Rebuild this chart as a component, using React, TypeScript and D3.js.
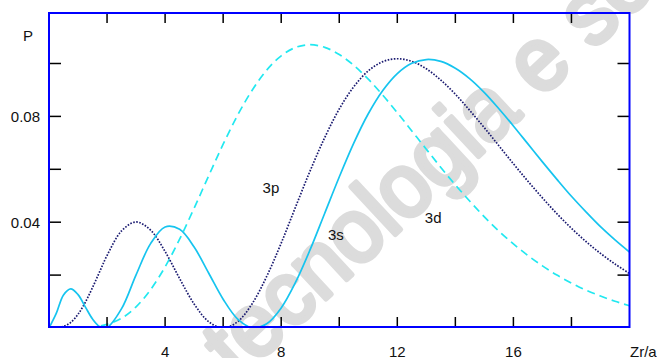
import React from 'react';
import * as d3 from 'd3';

// x values (Zr/a)
const xs = [0, 0.25, 0.5, 0.75, 1, 1.25, 1.5, 1.75, 2, 2.5, 3, 3.5, 4, 4.5, 5, 5.5, 6, 6.5, 7, 7.5, 8, 8.5, 9, 9.5, 10, 10.5, 11, 11.5, 12, 12.5, 13, 13.5, 14, 14.5, 15, 15.5, 16, 16.5, 17, 17.5, 18, 18.5, 19, 19.5, 20];

// 3s (solid)
const p3s = [0, 0.0055, 0.0125, 0.0148, 0.0126, 0.008, 0.0034, 0.0005, 0.0002, 0.0073, 0.0201, 0.0319, 0.0382, 0.0373, 0.0306, 0.0208, 0.0109, 0.0034, 0.0001, 0.0016, 0.0076, 0.0174, 0.0297, 0.0434, 0.0571, 0.0699, 0.081, 0.0898, 0.0962, 0.1001, 0.1015, 0.1008, 0.0982, 0.0942, 0.089, 0.0829, 0.0764, 0.0696, 0.0628, 0.0562, 0.0498, 0.0439, 0.0383, 0.0333, 0.0287];

// 3p (dotted)
const p3p = [0, 0, 0.0006, 0.0021, 0.0052, 0.0097, 0.0153, 0.0214, 0.0274, 0.0367, 0.0401, 0.037, 0.0289, 0.0187, 0.0091, 0.0024, 0, 0.0024, 0.0092, 0.0195, 0.0321, 0.0459, 0.0595, 0.072, 0.0828, 0.0912, 0.0972, 0.1007, 0.1018, 0.1008, 0.098, 0.0937, 0.0884, 0.0822, 0.0757, 0.0689, 0.0621, 0.0555, 0.0492, 0.0432, 0.0377, 0.0327, 0.0282, 0.0242, 0.0206];

// 3d (dashed)
const p3d = [0, 0, 0, 0, 0, 0.0001, 0.0003, 0.0007, 0.0014, 0.0037, 0.008, 0.0145, 0.0231, 0.0336, 0.0453, 0.0575, 0.0695, 0.0805, 0.0899, 0.0975, 0.1029, 0.1061, 0.1071, 0.1061, 0.1034, 0.0993, 0.0941, 0.088, 0.0814, 0.0745, 0.0676, 0.0607, 0.0541, 0.0479, 0.042, 0.0366, 0.0318, 0.0274, 0.0235, 0.02, 0.017, 0.0143, 0.0121, 0.0101, 0.0084];

const xTicks = [2, 4, 6, 8, 10, 12, 14, 16, 18];
const xTickLabels = [4, 8, 12, 16];
const yTicks = [0.02, 0.04, 0.06, 0.08, 0.1];
const yTickLabels = [0.04, 0.08];

const curveLabels = ['3p', '3s', '3d'];
const curveLabelX = [7.36, 9.61, 12.95];
const curveLabelY = [0.051, 0.0333, 0.0397];

export default function App() {
  const W = 657;
  const H = 358;
  const x = d3.scaleLinear().domain([0, 20]).range([49, 629.5]);
  const y = d3.scaleLinear().domain([0, 0.12]).range([328, 10.6]);
  const plotTop = 13;
  const plotBottom = 327;

  const lineGen = d3
    .line<number>()
    .x((_, i) => x(xs[i]))
    .y((d) => y(d))
    .curve(d3.curveCatmullRom.alpha(0.5));

  const font = "'Liberation Sans', Arial, sans-serif";

  return (
    <svg
      width={W}
      height={H}
      style={{ position: 'absolute', left: 0, top: 0, background: '#fff' }}
    >
      <defs>
        <clipPath id="plotClip">
          <rect x={x(0)} y={0} width={x(20) - x(0)} height={plotBottom} />
        </clipPath>
      </defs>
      <rect x={0} y={0} width={W} height={H} fill="#fff" />
      {/* watermark */}
      <text
        transform="translate(238,381) rotate(-43)"
        fontSize={90}
        fontFamily={font}
        fill="#dcdcdc"
        stroke="#dcdcdc"
        strokeWidth={5}
        strokeLinejoin="round"
        textLength={575}
        lengthAdjust="spacingAndGlyphs"
      >
        tecnologia e so
      </text>

      <g clipPath="url(#plotClip)" fill="none">
        <path d={lineGen(p3d) || ''} stroke="#22e8f0" strokeWidth={1.7} strokeDasharray="8,5" />
        <path d={lineGen(p3p) || ''} stroke="#1a1a70" strokeWidth={1.7} strokeDasharray="1.6,1.5" />
        <path d={lineGen(p3s) || ''} stroke="#16c4ef" strokeWidth={1.7} />
      </g>

      {/* ticks */}
      <g stroke="#000" strokeWidth={1.5}>
        {xTicks.map((t) => (
          <g key={'xt' + t}>
            <line x1={x(t)} x2={x(t)} y1={plotBottom} y2={plotBottom - 10} />
            <line x1={x(t)} x2={x(t)} y1={plotTop} y2={plotTop + 10} />
          </g>
        ))}
        {yTicks.map((t) => (
          <g key={'yt' + t}>
            <line x1={x(0)} x2={x(0) + 12} y1={y(t)} y2={y(t)} />
            <line x1={x(20)} x2={x(20) - 12} y1={y(t)} y2={y(t)} />
          </g>
        ))}
      </g>

      {/* frame */}
      <rect
        x={x(0)}
        y={plotTop}
        width={x(20) - x(0)}
        height={plotBottom - plotTop}
        fill="none"
        stroke="#0000ff"
        strokeWidth={2}
      />

      <g fontFamily={font} fontSize={15} fill="#111">
        {xTickLabels.map((t) => (
          <text key={'xl' + t} x={x(t)} y={356.5} textAnchor="middle">
            {t}
          </text>
        ))}
        {yTickLabels.map((t) => (
          <text key={'yl' + t} x={40} y={y(t) + 5.5} textAnchor="end">
            {t.toFixed(2)}
          </text>
        ))}
        <text x={23} y={41}>P</text>
        <text x={630} y={356.5}>Zr/a</text>
        {curveLabels.map((l, i) => (
          <text key={l} x={x(curveLabelX[i])} y={y(curveLabelY[i])}>
            {l}
          </text>
        ))}
      </g>
    </svg>
  );
}
